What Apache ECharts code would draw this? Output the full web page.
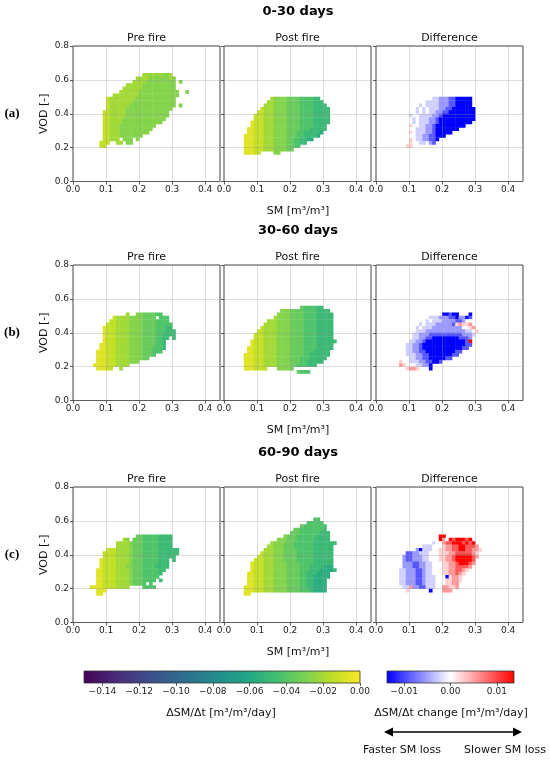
<!DOCTYPE html>
<html lang="en">
<head>
<meta charset="UTF-8">
<title>SM drydown rate by SM and VOD, pre and post fire</title>
<script src="https://cdn.jsdelivr.net/npm/echarts@6.0.0/dist/echarts.min.js"></script>
<style>
  html, body { margin: 0; padding: 0; background: #fff; }
  #main { width: 550px; height: 760px; }
</style>
</head>
<body>
<div id="main"></div>
<script>
// bin sizes of the 2D histograms
const SM_STEP = 0.01;
const VOD_STEP = 0.02;

const periods = ['0-30 days', '30-60 days', '60-90 days'];
const panelTitles = ['Pre fire', 'Post fire', 'Difference'];
const rowTags = ['(a)', '(b)', '(c)'];
const smTicks = [0, 0.1, 0.2, 0.3, 0.4];
const vodTicks = [0, 0.2, 0.4, 0.6, 0.8];
const rateTicks = [-0.14, -0.12, -0.10, -0.08, -0.06, -0.04, -0.02, 0];
const changeTicks = [-0.01, 0, 0.01];

// one digit per SM bin: rate = digit * RATE_STEP, change = CHANGE_LEVELS[digit]
const RATE_STEP = -0.007;
const CHANGE_LEVELS = [-0.014, -0.009, -0.0055, -0.0025, 0, 0.0025, 0.0055, 0.009, 0.014];

// rows from the top VOD bin down, "firstSmBin:digits"
const pre0to30 = { top: 31, rows: [
  '21:334343443',
  '19:333344444434',
  '18:3333444444444 32:4',
  '16:333334444444444',
  '15:3333334444444444',
  '14:333333444444444444 34:4',
  '12:33333333444444444444',
  '10:233333333444444444444',
  '10:233333334444444444444',
  '10:233333344444444444444 32:4',
  '10:23333344444444444444',
  '9:22333334444444444444',
  '9:22333334444444444444',
  '9:2233334444444444444',
  '9:223333444444444444',
  '9:2233344444444444',
  '9:223334444444444',
  '9:22333444444444',
  '9:223334444444',
  '9:22333 15:444 19:4',
  '8:222 13:33 16:44',
  '8:22'
]};
const post0to30 = { top: 24, rows: [
  '14:344445555666677',
  '13:33444455556666777',
  '12:3334444555566667777',
  '11:233344445555666677777',
  '10:2233344445555666677777',
  '9:22233344445555666677777',
  '9:22233344445555666677777',
  '8:122233344445555666677777',
  '8:12223334444555566667777',
  '7:112223334444555566677777',
  '7:11222333444455566777778',
  '6:11122233344445556677778',
  '6:111222333444455667788',
  '6:1112223334444556677',
  '6:11122233344445566',
  '6:111222333444455',
  '6:11122 15:44'
]};
const diff0to30 = { top: 24, rows: [
  '17:332221100000',
  '13:4433332221100000',
  '11:443433332221100000',
  '10:44343433322110000000',
  '9:444343433221100000000',
  '9:434433332210000000000',
  '9:443433322100000000000',
  '9:44343332210000000000',
  '9:454433221000000000',
  '9:4443332210000000',
  '9:45433322100000',
  '9:444332211000',
  '8:44543322110',
  '8:4 10:54 13:33 16:21',
  '9:55'
]};
const pre30to60 = { top: 25, rows: [
  '16:3 19:44555566',
  '12:2333344445555 26:666',
  '11:223333444455556666',
  '10:22233334444555566666',
  '9:122233334444555566677',
  '9:1222333344445555666777',
  '9:1222333344445555667777',
  '9:12223333444455556677 30:7',
  '9:1222333344445555667',
  '8:11222333344445555667',
  '8:11222333344445556667',
  '7:11122233334444555666',
  '7:111222333344445556',
  '7:1112223333444455',
  '7:1112223333444',
  '6:11112223333',
  '7:11122 14:3'
]};
const post30to60 = { top: 27, rows: [
  '23:5666677',
  '17:444555566667777',
  '16:44445555666677777',
  '15:344445555666677777',
  '13:33344445555666677777',
  '12:333344445555666677777',
  '11:2333344445555666677777',
  '10:22333344445555666677777',
  '9:222333344445555666677777',
  '9:222333344445555666677777',
  '8:12223333444455556666777777',
  '8:1222333344445555666677777',
  '7:11222333344445555666677777',
  '7:1122233334444555566677777',
  '6:11122233334444555566777777',
  '6:1112223333444455566677777',
  '6:111222333344445556677777',
  '6:1112223333444455666777',
  '6:1112222 16:44445',
  '22:5666'
]};
const diff30to60 = { top: 25, rows: [
  '20:00100 28:0',
  '16:3332221102201',
  '13:4434333222211244',
  '11:443433322222156556',
  '10:44343332222222224456',
  '9:4443332222222222223345',
  '8:4443322211111111112223',
  '8:444332211000000001112',
  '7:4443322100000000000018',
  '7:4433221000000000000011',
  '7:443322100000000000011',
  '7:4433221100000000011',
  '7:443332211000000011',
  '7:4443322110000011',
  '7:5443332211001',
  '7:6544433220',
  '9:5665 16:0'
]};
const pre60to90 = { top: 25, rows: [
  '19:55666667777',
  '15:34 18:555666667777',
  '13:33334555666667777',
  '13:33334555666667777',
  '10:2223333455566666777777',
  '9:22223333455566666777777',
  '9:2222333345556666677777',
  '8:122223333455566666777 30:7',
  '8:122223333455566666777',
  '8:122223334455566667777',
  '7:112222333345556666677',
  '7:11222233334555666667',
  '7:1122223333455566666',
  '7:112222333345556666 26:7',
  '7:112222333345556 23:6',
  '5:111122223333 21:6666',
  '7:111',
  '7:11'
]};
const post60to90 = { top: 30, rows: [
  '27:66',
  '25:66666',
  '23:56666666',
  '21:5566666667',
  '20:555666666777',
  '18:45556666667777',
  '16:4445556666677777',
  '14:34445556666667777777',
  '13:33444555666666777777',
  '12:333444555566666777777',
  '11:2333444555566666777777',
  '10:22333444555566666777777',
  '9:222333444555566666777777',
  '8:1222333444455556666777777',
  '8:1222333444455556667777888',
  '8:12223334444555566677788887',
  '7:1122233344445555667778888',
  '7:1122233344445555667788888',
  '7:112223334444555566778888',
  '7:112223334444555566778888',
  '6:1112223334444555566778888',
  '6:1112223334444555566678888',
  '6:11'
]};
const diff60to90 = { top: 25, rows: [
  '19:88',
  '19:8648788878',
  '17:3446778887878',
  '14:33344456677887776',
  '12:20333445566778877665',
  '9:1122333444555667777765',
  '8:21122233444556678888876',
  '8:2112223344455667888887',
  '8:2221122334445566788876',
  '8:222112233444556677776',
  '7:332221123344455667765',
  '7:33222112334445566765',
  '7:3322211233344405665',
  '6:433222112333444556654',
  '6:4332221123334445566',
  '8:336221133344 20:66556',
  '8:45 16:0 20:666'
]};

const panels = [
  [pre0to30, post0to30, diff0to30],
  [pre30to60, post30to60, diff30to60],
  [pre60to90, post60to90, diff60to90]
];

const RATE_MIN = -0.15, RATE_MAX = 0;
const CHANGE_LIM = 0.0137;
const VIRIDIS = ['#440154', '#482475', '#414487', '#355f8d', '#2a788e', '#21918c',
                 '#22a884', '#44bf70', '#7ad151', '#bddf26', '#fde725'];
const BWR = ['#0000ff', '#ffffff', '#ff0000'];

const FONT = 'DejaVu Sans';
const SM_MAX = 0.445;
const gridLefts = [73, 224, 376];
const gridTops = [46, 265, 487];
const GRID_W = 147, GRID_H = 135.5;

function toCells(panel, toValue) {
  const out = [];
  panel.rows.forEach((row, k) => {
    const j = panel.top - k;
    row.split(' ').forEach(seg => {
      const [start, digits] = seg.split(':');
      for (let n = 0; n < digits.length; n++) {
        const i = +start + n;
        out.push([+(i * SM_STEP).toFixed(2), +(j * VOD_STEP).toFixed(2), toValue(+digits[n])]);
      }
    });
  });
  return out;
}
const rateValue = d => d * RATE_STEP;
const changeValue = d => CHANGE_LEVELS[d];

function renderCell(params, api) {
  const x = api.value(0), y = api.value(1);
  const a = api.coord([x, y + VOD_STEP]);
  const b = api.coord([x + SM_STEP, y]);
  return {
    type: 'rect',
    shape: { x: a[0], y: a[1], width: b[0] - a[0] + 0.4, height: b[1] - a[1] + 0.4 },
    style: { fill: api.visual('color') }
  };
}

function renderBar(colors) {
  return function (params, api) {
    const a = api.coord([api.value(0), 1]);
    const b = api.coord([api.value(1), 0]);
    return {
      type: 'rect',
      shape: { x: a[0], y: a[1], width: b[0] - a[0], height: b[1] - a[1] },
      style: {
        fill: new echarts.graphic.LinearGradient(0, 0, 1, 0,
          colors.map((c, k) => ({ offset: k / (colors.length - 1), color: c }))),
        stroke: '#333',
        lineWidth: 0.8
      }
    };
  };
}

const fmtSigned = v => Math.abs(v) < 1e-9 ? '0.00' : (v < 0 ? '\u2212' : '') + Math.abs(v).toFixed(2);
const gridLine = { show: true, lineStyle: { color: 'rgba(150,150,150,0.4)', width: 0.8 } };
const tickStyle = { color: '#333', width: 0.8 };

const grids = [], xAxes = [], yAxes = [], series = [], graphics = [];

panels.forEach((row, r) => row.forEach((panel, c) => {
  const g = r * 3 + c;
  grids.push({ left: gridLefts[c], top: gridTops[r], width: GRID_W, height: GRID_H,
    show: true, borderColor: '#444', borderWidth: 1 });
  xAxes.push({
    gridIndex: g, type: 'value', min: 0, max: SM_MAX, interval: 0.1, z: 3,
    axisLine: { show: false },
    axisTick: { show: true, length: 3, customValues: smTicks, lineStyle: tickStyle },
    axisLabel: { customValues: smTicks, fontFamily: FONT, fontSize: 9,
      color: '#222', margin: 4, formatter: v => v.toFixed(1) },
    splitLine: gridLine
  });
  yAxes.push({
    gridIndex: g, type: 'value', min: 0, max: 0.8, interval: 0.2, z: 3,
    axisLine: { show: false },
    axisTick: { show: true, length: 3, customValues: vodTicks, lineStyle: tickStyle },
    axisLabel: { show: c === 0, customValues: vodTicks, fontFamily: FONT, fontSize: 9,
      color: '#222', margin: 4, formatter: v => v.toFixed(1) },
    splitLine: gridLine
  });
  series.push({
    type: 'custom', coordinateSystem: 'cartesian2d', xAxisIndex: g, yAxisIndex: g,
    renderItem: renderCell, encode: { x: 0, y: 1 }, clip: true, silent: true, z: 1,
    data: toCells(panel, c === 2 ? changeValue : rateValue)
  });
  graphics.push({ type: 'text', x: gridLefts[c] + GRID_W / 2, y: gridTops[r] - 8,
    style: { text: panelTitles[c], font: '11px "DejaVu Sans"', fill: '#111',
      textAlign: 'center', textVerticalAlign: 'middle' } });
}));

periods.forEach((p, r) => {
  const mid = gridTops[r] + GRID_H / 2;
  graphics.push({ type: 'text', x: 298, y: gridTops[r] - 34,
    style: { text: p, font: 'bold 13px "DejaVu Sans"', fill: '#000', textAlign: 'center', textVerticalAlign: 'middle' } });
  graphics.push({ type: 'text', x: 44, y: mid, rotation: Math.PI / 2,
    style: { text: 'VOD [-]', font: '11px "DejaVu Sans"', fill: '#111', textAlign: 'center', textVerticalAlign: 'middle' } });
  graphics.push({ type: 'text', x: 12, y: mid,
    style: { text: rowTags[r], font: 'bold 13px "Liberation Serif"', fill: '#000', textAlign: 'center', textVerticalAlign: 'middle' } });
  graphics.push({ type: 'text', x: 298, y: gridTops[r] + GRID_H + 30,
    style: { text: 'SM [m\u00b3/m\u00b3]', font: '11px "DejaVu Sans"', fill: '#111', textAlign: 'center', textVerticalAlign: 'middle' } });
});

// colour bars
const bars = [
  { left: 84, width: 276, min: RATE_MIN, max: RATE_MAX, ticks: rateTicks, colors: VIRIDIS },
  { left: 387, width: 127, min: -CHANGE_LIM, max: CHANGE_LIM, ticks: changeTicks, colors: BWR }
];
bars.forEach((b, k) => {
  const g = 9 + k;
  grids.push({ left: b.left, top: 671, width: b.width, height: 12 });
  xAxes.push({
    gridIndex: g, type: 'value', min: b.min, max: b.max,
    axisLine: { show: false }, splitLine: { show: false },
    axisTick: { show: true, length: 3, customValues: b.ticks, lineStyle: tickStyle },
    axisLabel: { customValues: b.ticks, fontFamily: FONT, fontSize: 9, color: '#222', margin: 4,
      formatter: fmtSigned }
  });
  yAxes.push({ gridIndex: g, type: 'value', min: 0, max: 1, show: false });
  series.push({ type: 'custom', coordinateSystem: 'cartesian2d', xAxisIndex: g, yAxisIndex: g,
    renderItem: renderBar(b.colors), data: [[b.min, b.max]], silent: true });
});

graphics.push(
  { type: 'text', x: 221, y: 713, style: { text: '\u0394SM/\u0394t [m\u00b3/m\u00b3/day]', font: '11px "DejaVu Sans"', fill: '#111', textAlign: 'center', textVerticalAlign: 'middle' } },
  { type: 'text', x: 451, y: 713, style: { text: '\u0394SM/\u0394t change [m\u00b3/m\u00b3/day]', font: '11px "DejaVu Sans"', fill: '#111', textAlign: 'center', textVerticalAlign: 'middle' } },
  { type: 'line', shape: { x1: 390, y1: 732, x2: 516, y2: 732 }, style: { stroke: '#000', lineWidth: 1.5 } },
  { type: 'polygon', shape: { points: [[384, 732], [393, 727.5], [393, 736.5]] }, style: { fill: '#000' } },
  { type: 'polygon', shape: { points: [[522, 732], [513, 727.5], [513, 736.5]] }, style: { fill: '#000' } },
  { type: 'text', x: 402, y: 750, style: { text: 'Faster SM loss', font: '11px "DejaVu Sans"', fill: '#111', textAlign: 'center', textVerticalAlign: 'middle' } },
  { type: 'text', x: 505, y: 750, style: { text: 'Slower SM loss', font: '11px "DejaVu Sans"', fill: '#111', textAlign: 'center', textVerticalAlign: 'middle' } }
);

const chart = echarts.init(document.getElementById('main'));
chart.setOption({
  animation: false,
  backgroundColor: '#fff',
  grid: grids,
  xAxis: xAxes,
  yAxis: yAxes,
  visualMap: [
    { type: 'continuous', show: false, seriesIndex: [0, 1, 3, 4, 6, 7], dimension: 2,
      min: RATE_MIN, max: RATE_MAX, inRange: { color: VIRIDIS } },
    { type: 'continuous', show: false, seriesIndex: [2, 5, 8], dimension: 2,
      min: -CHANGE_LIM, max: CHANGE_LIM, inRange: { color: BWR } }
  ],
  series: series,
  graphic: graphics
});
</script>
</body>
</html>
